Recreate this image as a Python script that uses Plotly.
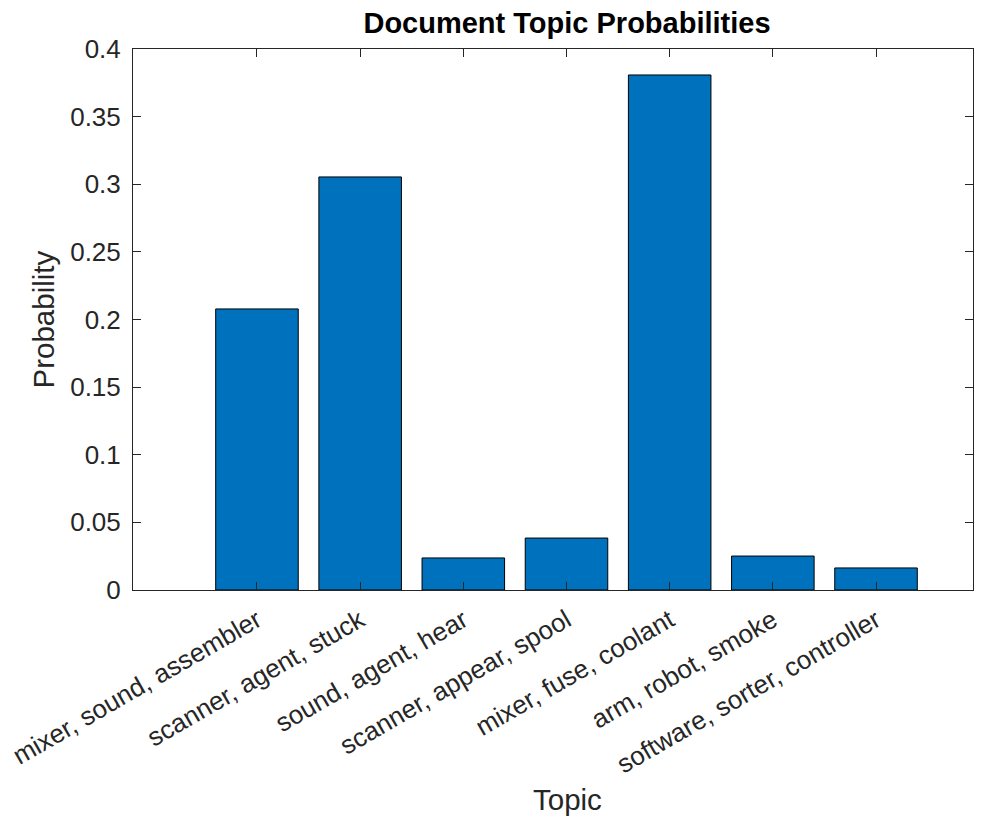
import plotly.graph_objects as go

topicos = [
    "mixer, sound, assembler",
    "scanner, agent, stuck",
    "sound, agent, hear",
    "scanner, appear, spool",
    "mixer, fuse, coolant",
    "arm, robot, smoke",
    "software, sorter, controller",
]
probabilidades = [0.2078, 0.3054, 0.0237, 0.0384, 0.3808, 0.0251, 0.0163]
y_ticks = [0, 0.05, 0.1, 0.15, 0.2, 0.25, 0.3, 0.35, 0.4]
y_labels = ["0", "0.05", "0.1", "0.15", "0.2", "0.25", "0.3", "0.35", "0.4"]

_COR_EIXO = "#262626"
_FONTE = "Liberation Sans, Arial, sans-serif"
# a página tem 8px de margem no body: a figura fica dentro da janela 987x824
_LARGURA, _ALTURA = 971, 808
_ESQ, _DIR, _TOPO, _BASE = 125, 6, 41, 226
_ALT_PLOT = _ALTURA - _TOPO - _BASE
_CENTRO_X = (559 - _ESQ) / (_LARGURA - _ESQ - _DIR)

posicoes = list(range(1, len(topicos) + 1))

fig = go.Figure(
    go.Bar(
        x=posicoes,
        y=probabilidades,
        width=0.8,
        marker={"color": "#0072BD", "line": {"color": "#000000", "width": 1}},
    )
)

fig.update_layout(
    width=_LARGURA,
    height=_ALTURA,
    paper_bgcolor="white",
    plot_bgcolor="white",
    margin={"l": _ESQ, "r": _DIR, "t": _TOPO, "b": _BASE},
    font={"family": _FONTE, "color": _COR_EIXO, "size": 26},
    showlegend=False,
    title={
        "text": "<b>Document Topic Probabilities</b>",
        "x": _CENTRO_X,
        "xref": "paper",
        "xanchor": "center",
        "y": 1 - 15 / _ALTURA,
        "yanchor": "middle",
        "font": {"size": 29, "color": "#000000"},
    },
    annotations=[
        {
            "text": "Topic",
            "x": _CENTRO_X,
            "xref": "paper",
            "xanchor": "center",
            "y": -(_BASE + 2) / _ALT_PLOT,
            "yref": "paper",
            "yanchor": "bottom",
            "showarrow": False,
            "font": {"size": 29.5, "color": _COR_EIXO},
        },
        {
            "text": "Probability",
            "textangle": -90,
            "x": (35 - _ESQ) / (_LARGURA - _ESQ - _DIR),
            "xref": "paper",
            "xanchor": "center",
            "y": 0.5,
            "yref": "paper",
            "yanchor": "middle",
            "showarrow": False,
            "font": {"size": 29.5, "color": _COR_EIXO},
        },
    ],
)

fig.update_xaxes(
    range=[-0.2016, 7.94],
    tickvals=posicoes,
    ticktext=topicos,
    tickangle=-30,
    ticks="inside",
    ticklen=8,
    tickcolor=_COR_EIXO,
    showline=True,
    linecolor=_COR_EIXO,
    linewidth=1,
    mirror="ticks",
    showgrid=False,
    zeroline=False,
    tickfont={"size": 26},
    ticklabelstandoff=4,
    ticklabeloverflow="allow",
    automargin=False,
)
fig.update_yaxes(
    range=[0, 0.4],
    tickvals=y_ticks,
    ticktext=y_labels,
    ticks="inside",
    ticklen=8,
    tickcolor=_COR_EIXO,
    showline=True,
    linecolor=_COR_EIXO,
    linewidth=1,
    mirror="ticks",
    showgrid=False,
    zeroline=False,
    tickfont={"size": 26},
    ticklabelstandoff=6,
    automargin=False,
)

fig.write_html("out.html")
